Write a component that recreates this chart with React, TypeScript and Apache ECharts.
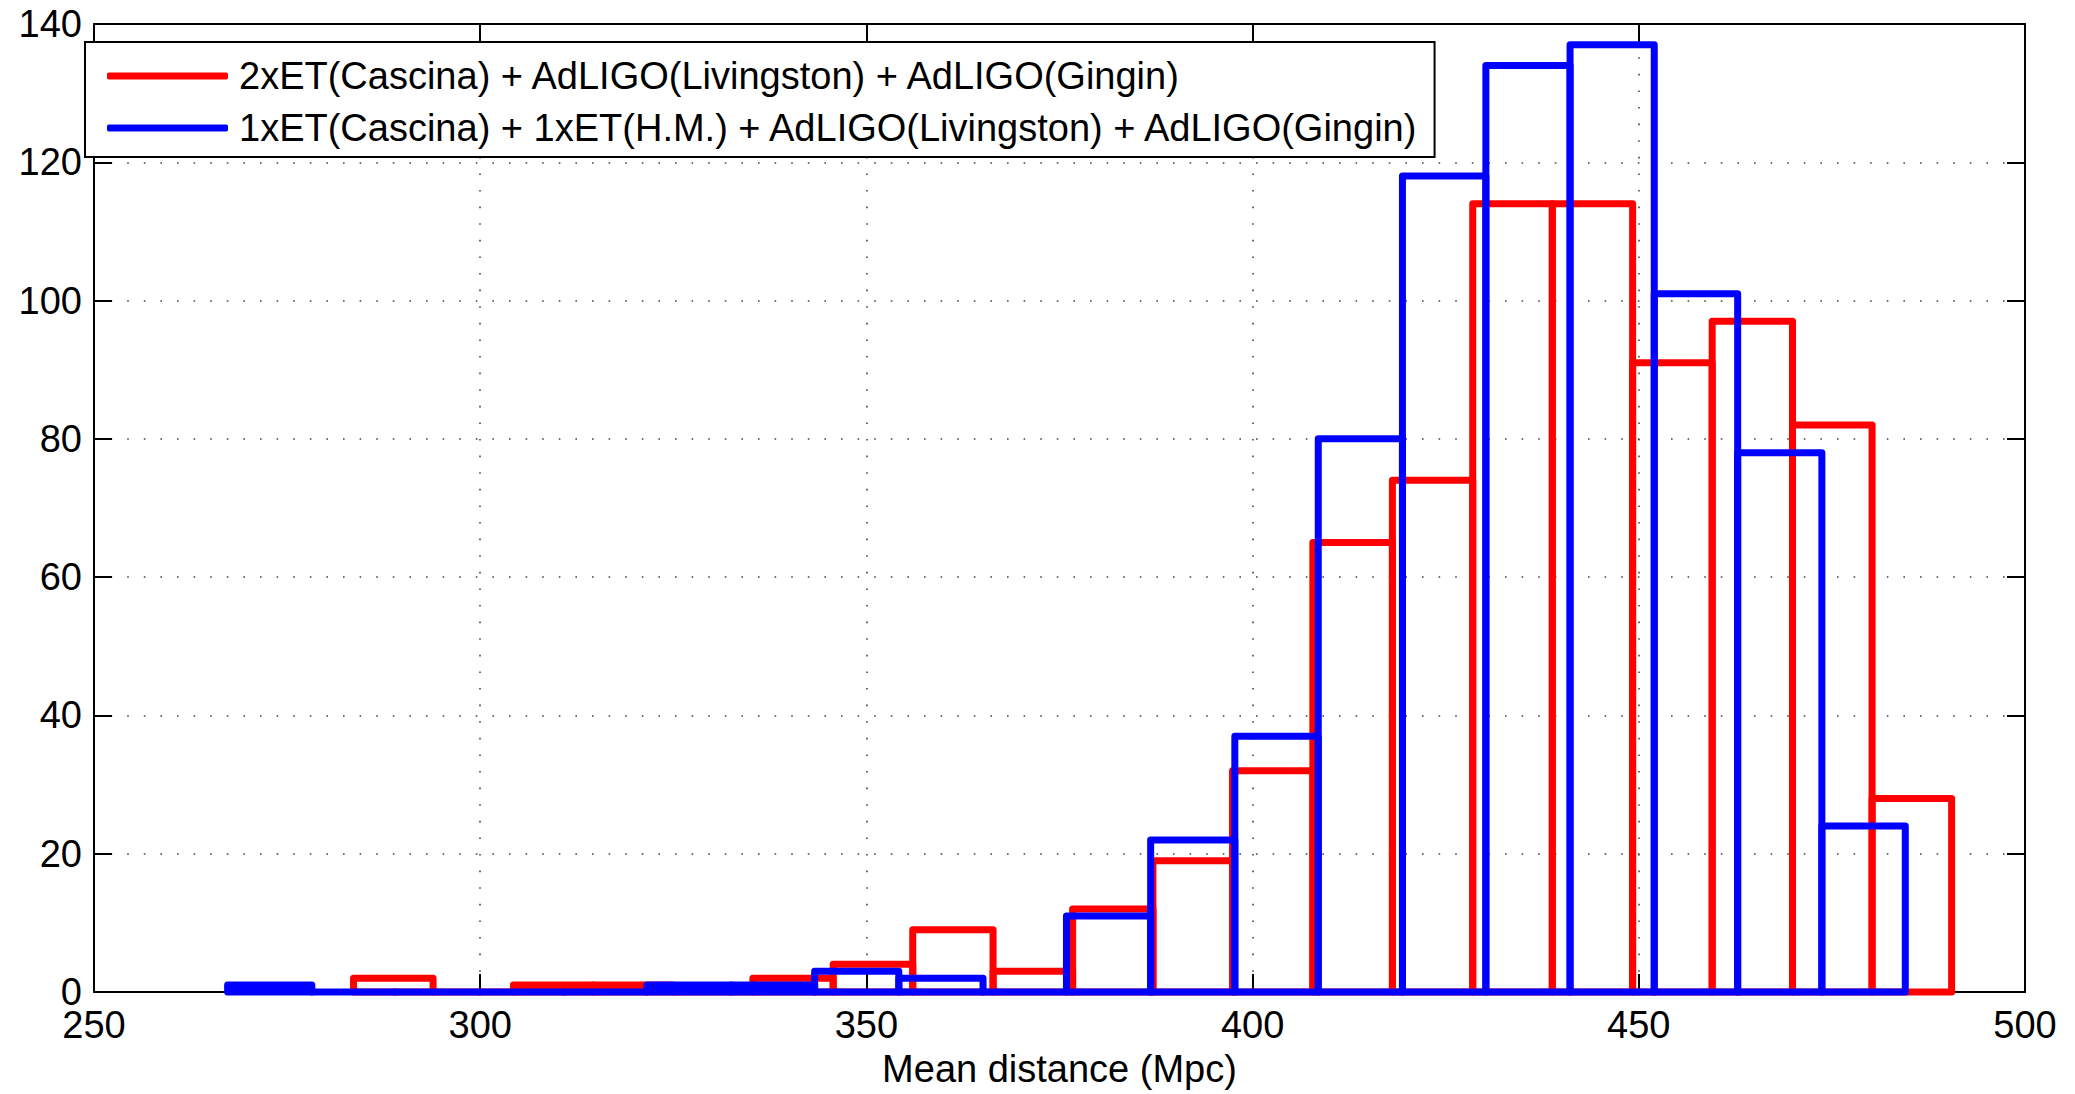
import React, { useEffect, useRef } from "react";
import * as echarts from "echarts";

// Histogram bin edges (Mpc) and counts
const redEdges = [283.6, 293.9, 304.3, 314.6, 325.0, 335.3, 345.7, 356.0, 366.4, 376.7, 387.1, 397.4, 407.8, 418.1, 428.5, 438.8, 449.2, 459.5, 469.9, 480.2, 490.5];
const redCounts = [2, 0, 1, 1, 0, 2, 4, 9, 3, 12, 19, 32, 65, 74, 114, 114, 91, 97, 82, 28];

const blueEdges = [267.3, 278.2, 289.0, 299.9, 310.8, 321.6, 332.5, 343.3, 354.2, 365.1, 375.9, 386.8, 397.7, 408.5, 419.4, 430.2, 441.1, 452.0, 462.8, 473.7, 484.5];
const blueCounts = [1, 0, 0, 0, 0, 1, 1, 3, 2, 0, 11, 22, 37, 80, 118, 134, 137, 101, 78, 24];

const seriesNames = [
  "2xET(Cascina) + AdLIGO(Livingston) + AdLIGO(Gingin)",
  "1xET(Cascina) + 1xET(H.M.) + AdLIGO(Livingston) + AdLIGO(Gingin)",
];
const seriesColors = ["#ff0000", "#0000ff"];

const xTicks = { min: 250, max: 500, interval: 50 };
const yTicks = { min: 0, max: 140, interval: 20 };
const xAxisName = "Mean distance (Mpc)";

const FONT = "Liberation Sans";

function binsData(edges: number[], counts: number[]) {
  return counts.map((c, i) => [edges[i], edges[i + 1], c]);
}

function makeRender(color: string) {
  return (params: any, api: any) => {
    const p0 = api.coord([api.value(0), 0]);
    const p1 = api.coord([api.value(1), api.value(2)]);
    return {
      type: "polygon",
      shape: {
        points: [
          [p0[0], p0[1]],
          [p0[0], p1[1]],
          [p1[0], p1[1]],
          [p1[0], p0[1]],
        ],
      },
      style: {
        fill: "none",
        stroke: color,
        lineWidth: 7,
        lineJoin: "round",
        lineCap: "round",
      },
    };
  };
}

export default function App() {
  const ref = useRef<HTMLDivElement>(null);

  useEffect(() => {
    document.body.style.margin = "0";
    const chart = echarts.init(ref.current!, null, { renderer: "svg" });

    const gridLine = {
      show: true,
      lineStyle: { color: "#444", width: 1.6, type: [1.6, 15] as any },
    };
    const boxLine = { show: true, onZero: false, lineStyle: { color: "#000", width: 2 } };
    const tick = { show: true, inside: true, length: 18, lineStyle: { color: "#000", width: 2 } };

    const option: any = {
      animation: false,
      backgroundColor: "#fff",
      textStyle: { fontFamily: FONT },
      grid: { left: 94, right: 50, top: 24, bottom: 102, containLabel: false },
      legend: {
        orient: "vertical",
        left: 85,
        top: 42,
        padding: [15, 14, 10, 22],
        itemGap: 14,
        itemWidth: 121,
        itemHeight: 7,
        backgroundColor: "#fff",
        borderColor: "#000",
        borderWidth: 2,
        borderRadius: 0,
        selectedMode: false,
        textStyle: { fontSize: 38, color: "#000", fontFamily: FONT, padding: [0, 0, 0, 6] },
        data: seriesNames.map((n, i) => ({
          name: n,
          icon: "roundRect",
          itemStyle: { color: seriesColors[i] },
        })),
      },
      xAxis: [
        {
          type: "value",
          min: xTicks.min,
          max: xTicks.max,
          interval: xTicks.interval,
          position: "bottom",
          name: xAxisName,
          nameLocation: "middle",
          nameGap: 58,
          nameTextStyle: { fontSize: 38, color: "#000", fontFamily: FONT },
          axisLine: boxLine,
          axisTick: tick,
          axisLabel: { fontSize: 38, color: "#000", margin: 14, fontFamily: FONT },
          splitLine: gridLine,
        },
        {
          type: "value",
          min: xTicks.min,
          max: xTicks.max,
          interval: xTicks.interval,
          position: "top",
          axisLine: boxLine,
          axisTick: tick,
          axisLabel: { show: false },
          splitLine: { show: false },
        },
      ],
      yAxis: [
        {
          type: "value",
          min: yTicks.min,
          max: yTicks.max,
          interval: yTicks.interval,
          position: "left",
          axisLine: boxLine,
          axisTick: tick,
          axisLabel: { fontSize: 38, color: "#000", margin: 12, fontFamily: FONT },
          splitLine: gridLine,
        },
        {
          type: "value",
          min: yTicks.min,
          max: yTicks.max,
          interval: yTicks.interval,
          position: "right",
          axisLine: boxLine,
          axisTick: tick,
          axisLabel: { show: false },
          splitLine: { show: false },
        },
      ],
      series: [
        {
          name: seriesNames[0],
          type: "custom",
          xAxisIndex: 0,
          yAxisIndex: 0,
          itemStyle: { color: seriesColors[0] },
          encode: { x: [0, 1], y: 2 },
          renderItem: makeRender(seriesColors[0]),
          data: binsData(redEdges, redCounts),
          z: 3,
        },
        {
          name: seriesNames[1],
          type: "custom",
          xAxisIndex: 0,
          yAxisIndex: 0,
          itemStyle: { color: seriesColors[1] },
          encode: { x: [0, 1], y: 2 },
          renderItem: makeRender(seriesColors[1]),
          data: binsData(blueEdges, blueCounts),
          z: 4,
        },
      ],
    };

    chart.setOption(option);
    return () => chart.dispose();
  }, []);

  return (
    <div
      ref={ref}
      style={{ position: "fixed", left: 0, top: 0, width: 2075, height: 1094 }}
    />
  );
}
